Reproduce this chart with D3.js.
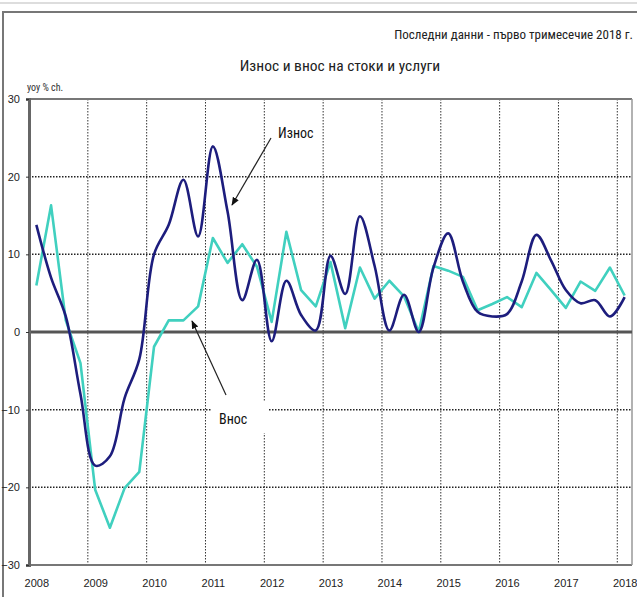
<!DOCTYPE html>
<html><head><meta charset="utf-8">
<script src="https://cdn.jsdelivr.net/npm/d3@7/dist/d3.min.js"></script>
<style>
body{margin:0;background:#fff;}
text{font-family:"Liberation Sans Narrow","Arial Narrow","Roboto Condensed","Liberation Sans",sans-serif;}
</style></head>
<body><svg id="c" width="637" height="597"></svg>
<script>
const years = [2008,2009,2010,2011,2012,2013,2014,2015,2016,2017,2018];
const yTicks = [30,20,10,0,-10,-20,-30];
const quarters = [];
years.forEach(y => { for (let q = 1; q <= 4; q++) if (y < 2018 || q === 1) quarters.push(y + "Q" + q); });
const exportsYoY = [13.8,7,2,-8,-17.2,-16,-8.5,-3.5,10,13.8,19.6,12.3,23.9,15.5,4.1,9.3,-1.2,6.6,2.2,0.2,9.8,4.9,14.9,8.5,0.2,4.8,0,8.3,12.7,6.5,2.6,2.0,2.3,6.5,12.5,9.2,5.4,3.7,4.1,2.0,4.5];
const importsYoY = [6.0,16.3,1.5,-4,-20.3,-25.2,-20.1,-18,-1.9,1.5,1.5,3.3,12.1,8.9,11.3,8.4,1.3,12.9,5.4,3.3,9,0.5,8.3,4.3,6.6,4.6,0,8.5,7.9,7.1,2.8,3.6,4.5,3.2,7.6,5.4,3.1,6.5,5.3,8.3,4.7];

const svg = d3.select("#c");
const L = 29, R = 632, T = 99, B = 565;
const x = d3.scaleLinear().domain([0, quarters.length]).range([L, R]);
const y = d3.scaleLinear().domain([-30, 30]).range([B, T]);

// outer frame
svg.append("line").attr("x1",0).attr("x2",637).attr("y1",3).attr("y2",3).attr("stroke","#bbb").attr("stroke-width",1);
svg.append("rect").attr("x",3).attr("y",12).attr("width",640).attr("height",600)
  .attr("fill","none").attr("stroke","#777").attr("stroke-width",2);

// texts
svg.append("text").attr("x",633).attr("y",39).attr("text-anchor","end").attr("font-size",13).attr("fill","#222")
  .text("Последни данни - първо тримесечие 2018 г.");
svg.append("text").attr("x",340).attr("y",71).attr("text-anchor","middle").attr("font-size",15.5).attr("fill","#222")
  .text("Износ и внос на стоки и услуги");
svg.append("text").attr("x",27).attr("y",91).attr("font-size",10).attr("fill","#333").text("yoy % ch.");

// gridlines vertical
const yearIdx = years.map((yr,i)=>i*4);
svg.append("g").selectAll("line").data(yearIdx.filter(i=>i>0)).join("line")
  .attr("x1",d=>x(d)).attr("x2",d=>x(d)).attr("y1",T).attr("y2",B)
  .attr("stroke","#333").attr("stroke-width",1).attr("stroke-dasharray","1.5,1.5");
// gridlines horizontal
svg.append("g").selectAll("line").data(yTicks.filter(v=>v!==0 && Math.abs(v)!==30)).join("line")
  .attr("x1",L).attr("x2",R).attr("y1",d=>y(d)).attr("y2",d=>y(d))
  .attr("stroke","#222").attr("stroke-width",1.5).attr("stroke-dasharray","1.5,1.5");
// frame of plot
svg.append("line").attr("x1",L).attr("x2",R).attr("y1",T).attr("y2",T).attr("stroke","#777").attr("stroke-width",2);
svg.append("line").attr("x1",L).attr("x2",R).attr("y1",B).attr("y2",B).attr("stroke","#777").attr("stroke-width",2);
svg.append("line").attr("x1",R).attr("x2",R).attr("y1",T).attr("y2",B).attr("stroke","#999").attr("stroke-width",1.5);
svg.append("line").attr("x1",L).attr("x2",R).attr("y1",y(0)).attr("y2",y(0)).attr("stroke","#555").attr("stroke-width",3);

// y axis
const yAxis = svg.append("g").attr("transform",`translate(${L},0)`)
  .call(d3.axisLeft(y).tickValues(yTicks).tickSize(3).tickPadding(6).tickFormat(d3.format("d")));
yAxis.select(".domain").attr("stroke","#666").attr("stroke-width",3);
yAxis.selectAll(".tick line").attr("stroke","#333");
yAxis.selectAll("text").attr("font-size",11).attr("fill","#222")
  .style("font-family",'"Liberation Sans Narrow","Arial Narrow","Liberation Sans",sans-serif');

// x labels
const xAxis = svg.append("g").attr("transform",`translate(0,${B})`)
  .call(d3.axisBottom(x).tickValues(yearIdx.map(i=>i+0.5)).tickSize(0).tickPadding(14)
    .tickFormat((d,i)=>years[i]));
xAxis.select(".domain").remove();
xAxis.selectAll("text").attr("font-size",11).attr("fill","#222")
  .style("font-family",'"Liberation Sans Narrow","Arial Narrow","Liberation Sans",sans-serif');

// lines
const lineSmooth = d3.line().x((d,i)=>x(i+0.5)).y(d=>y(d)).curve(d3.curveCatmullRom.alpha(0.5));
const lineStraight = d3.line().x((d,i)=>x(i+0.5)).y(d=>y(d));
svg.append("path").datum(importsYoY).attr("d",lineStraight).attr("fill","none")
  .attr("stroke","#40d0bf").attr("stroke-width",2.6).attr("stroke-linejoin","round");
svg.append("path").datum(exportsYoY).attr("d",lineSmooth).attr("fill","none")
  .attr("stroke","#1d1d7d").attr("stroke-width",2.6);

// annotations
const defs = svg.append("defs");
defs.append("marker").attr("id","ah").attr("viewBox","0 0 10 10").attr("refX",9).attr("refY",5)
  .attr("markerWidth",7).attr("markerHeight",7).attr("orient","auto")
  .append("path").attr("d","M0,1 L10,5 L0,9 z").attr("fill","#111");
svg.append("line").attr("x1",271).attr("y1",138).attr("x2",232).attr("y2",205)
  .attr("stroke","#222").attr("stroke-width",1.2).attr("marker-end","url(#ah)");
svg.append("text").attr("x",278).attr("y",138).attr("font-size",14).attr("fill","#111").text("Износ");

svg.append("rect").attr("x",212).attr("y",401).attr("width",56).attr("height",32).attr("fill","#fff");
svg.append("line").attr("x1",226).attr("y1",395).attr("x2",192).attr("y2",321)
  .attr("stroke","#222").attr("stroke-width",1.2).attr("marker-end","url(#ah)");
svg.append("text").attr("x",219).attr("y",424).attr("font-size",14).attr("fill","#111").text("Внос");
</script></body></html>
